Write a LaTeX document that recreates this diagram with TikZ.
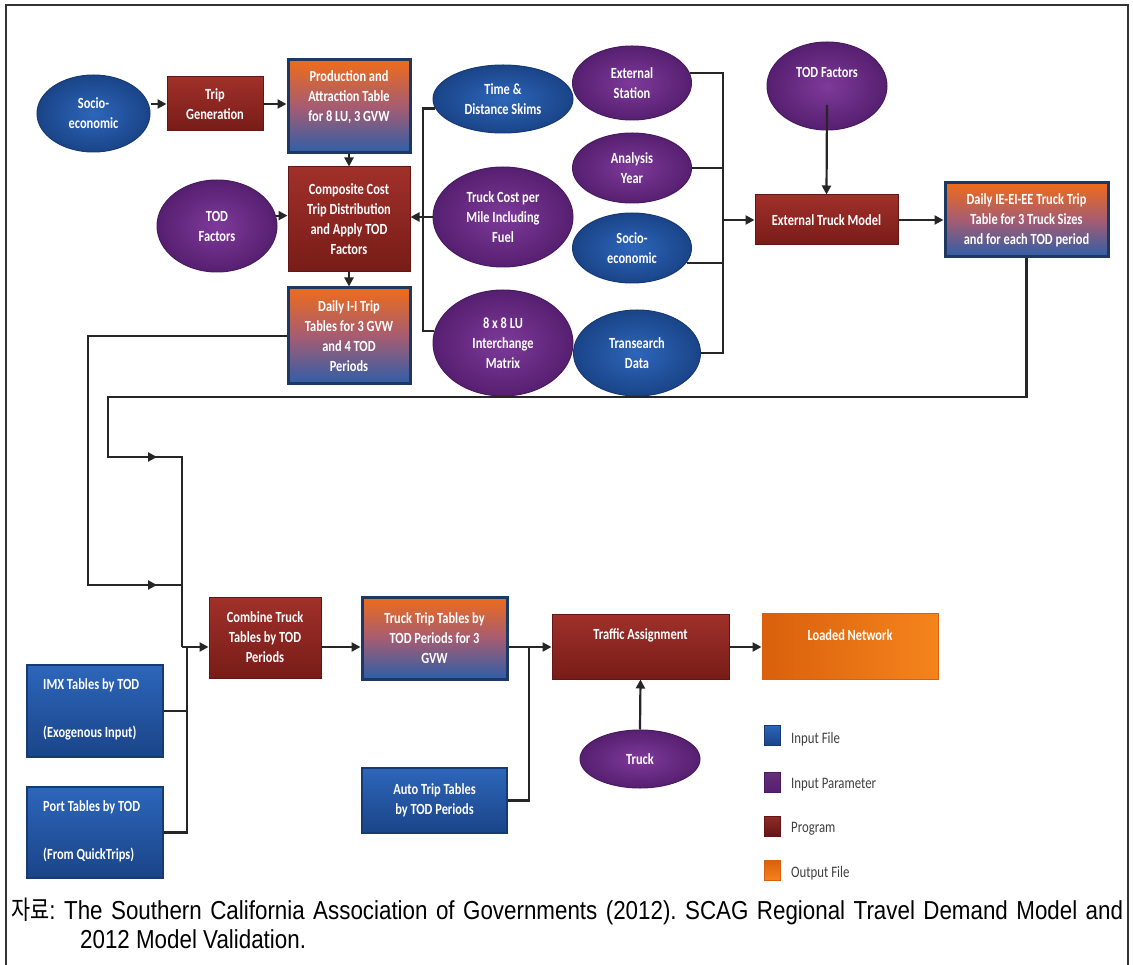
\documentclass[tikz,border=0pt]{standalone}
\usepackage{fontspec}
\setmainfont{Carlito}
\newfontfamily\boxfont{Carlito}[FakeStretch=0.8]
\newfontfamily\capfont{Liberation Sans}[FakeStretch=0.86]
\newfontfamily\krfont{Noto Sans CJK KR}[FakeStretch=0.8]
\usetikzlibrary{arrows.meta,shapes.geometric,shadings}

% palette
\definecolor{inblueL}{HTML}{2D66BA}
\definecolor{inblueD}{HTML}{1A4488}
\definecolor{inblueE}{HTML}{163A74}
\definecolor{parpurL}{HTML}{7E3A9A}
\definecolor{parpurD}{HTML}{561F70}
\definecolor{parpurE}{HTML}{4A1A60}
\definecolor{progredL}{HTML}{A0302A}
\definecolor{progredD}{HTML}{781C18}
\definecolor{progredE}{HTML}{641614}
\definecolor{outorL}{HTML}{F5841C}
\definecolor{outorD}{HTML}{D9600C}
\definecolor{mixtop}{HTML}{EE6C1A}
\definecolor{mixmid}{HTML}{A65C72}
\definecolor{mixbot}{HTML}{2E5EA8}
\definecolor{mixedge}{HTML}{1D3962}
\definecolor{wirecol}{HTML}{262626}
\definecolor{legtext}{HTML}{404040}

\tikzset{
  txt/.style={text=white, align=center,
    font=\boxfont\bfseries\fontsize{15.5pt}{20pt}\selectfont},
  infile/.style={rectangle, draw=inblueE, line width=1.2pt,
    top color=inblueL, bottom color=inblueD, inner sep=0pt, txt},
  inpar/.style={ellipse, draw=parpurE, line width=1pt,
    inner color=parpurL, outer color=parpurD, inner sep=0pt, txt},
  inell/.style={ellipse, draw=inblueE, line width=1pt,
    inner color=inblueL, outer color=inblueD, inner sep=0pt, txt},
  prog/.style={rectangle, draw=progredE, line width=1pt,
    top color=progredL, bottom color=progredD, inner sep=0pt, txt},
  outfile/.style={rectangle, draw=outorD, line width=1pt,
    left color=outorD, right color=outorL, inner sep=0pt, txt},
  mixfile/.style={rectangle, draw=mixedge, line width=3pt,
    top color=mixtop, bottom color=mixbot, middle color=mixmid,
    inner sep=0pt, txt},
  lbl/.style={inner sep=0pt, txt},
  legsq/.style={rectangle, minimum width=16pt, minimum height=20pt,
    inner sep=0pt, line width=0.8pt},
  legtxt/.style={anchor=west, inner sep=0pt, text=legtext,
    font=\boxfont\fontsize{16pt}{18pt}\selectfont},
  wire/.style={draw=wirecol, line width=2.2pt},
  arr/.style={wire, -{Triangle[length=9pt,width=9pt]}},
  captxt/.style={anchor=west, inner sep=0pt,
    font=\capfont\fontsize{26pt}{30pt}\selectfont\frenchspacing},
}

\begin{document}
\begin{tikzpicture}[x=1pt,y=-1pt]
\useasboundingbox (0,0) rectangle (1133,965);
\fill[white] (0,0) rectangle (1133,965);

% frame
\draw[line width=1.2pt, draw=black!80] (6,965) -- (6,5) -- (1128,5) -- (1128,965);

% ---------- internal truck model ----------
\node[inell, minimum width=113pt, minimum height=77pt] (soc1) at (93.5,113.5) {Socio-\\economic};
\node[prog, minimum width=96pt, minimum height=54pt] (tg) at (215,104) {Trip\\Generation};
\node[mixfile, minimum width=122pt, minimum height=93pt] (prod) at (349,106.5) {};
\node[lbl] (prodt) at (349,97) {Production and\\Attraction Table\\for 8 LU, 3 GVW};
\node[prog, minimum width=122pt, minimum height=105pt] (comp) at (349,219.5)
  {Composite Cost\\Trip Distribution\\and Apply TOD\\Factors};
\node[mixfile, minimum width=122pt, minimum height=96pt] (dII) at (349,336)
  {Daily I-I Trip\\Tables for 3 GVW\\and 4 TOD\\Periods};
\node[inpar, minimum width=120pt, minimum height=92pt] (todL) at (217,226) {TOD\\Factors};

\node[inell, minimum width=140pt, minimum height=68pt] (skims) at (503,99) {Time \&\\Distance Skims};
\node[inpar, minimum width=140pt, minimum height=100pt] (tcost) at (503,217)
  {Truck Cost per\\Mile Including\\Fuel};
\node[inpar, minimum width=140pt, minimum height=106pt] (lu8) at (503,343)
  {8 x 8 LU\\Interchange\\Matrix};

% ---------- external truck model ----------
\node[inpar, minimum width=119pt, minimum height=74pt] (extst) at (632,83) {External\\Station};
\node[inpar, minimum width=119pt, minimum height=70pt] (ayear) at (632,168) {Analysis\\Year};
\node[inell, minimum width=119pt, minimum height=70pt] (soc2) at (632,248) {Socio-\\economic};
\node[inell, minimum width=127pt, minimum height=86pt] (trans) at (637,353) {Transearch\\Data};
\node[inpar, minimum width=120pt, minimum height=88pt] (todR) at (827,86) {};
\node[lbl] (todRt) at (827,72) {TOD Factors};
\node[prog, minimum width=143pt, minimum height=50pt] (etm) at (826.5,220) {External Truck Model};
\node[mixfile, minimum width=163pt, minimum height=74pt] (dIE) at (1026.5,220)
  {Daily IE-EI-EE Truck Trip\\Table for 3 Truck Sizes\\and for each TOD period};

% ---------- assignment ----------
\node[prog, minimum width=112pt, minimum height=81pt] (comb) at (265,637.5)
  {Combine Truck\\Tables by TOD\\Periods};
\node[mixfile, minimum width=145pt, minimum height=82pt] (ttt) at (434.5,638)
  {Truck Trip Tables by\\TOD Periods for 3\\GVW};
\node[infile, minimum width=145pt, minimum height=65pt] (auto) at (434.5,800.5)
  {Auto Trip Tables\\by TOD Periods};
\node[infile, minimum width=136pt, minimum height=92pt] (imx) at (95,711) {};
\node[lbl, anchor=west, align=left] (imxt) at (43,709) {IMX Tables by TOD\\[28pt](Exogenous Input)};
\node[infile, minimum width=136pt, minimum height=91pt] (port) at (95,832.5) {};
\node[lbl, anchor=west, align=left] (portt) at (43,831) {Port Tables by TOD\\[28pt](From QuickTrips)};
\node[prog, minimum width=177pt, minimum height=65pt] (traf) at (640.5,646.5) {};
\node[lbl] (traft) at (640.5,635) {Traffic Assignment};
\node[outfile, minimum width=176pt, minimum height=66pt] (load) at (850,646) {};
\node[lbl] (loadt) at (850,635) {Loaded Network};
\node[inpar, minimum width=120pt, minimum height=58pt] (truck) at (640,759) {Truck};

% ---------- legend ----------
\node[legsq, draw=inblueE, top color=inblueL, bottom color=inblueD] (lg1) at (772,735) {};
\node[legsq, draw=parpurE, top color=parpurL!80!black, bottom color=parpurD] (lg2) at (772,782) {};
\node[legsq, draw=progredE, top color=progredL!90!black, bottom color=progredE] (lg3) at (772,826) {};
\node[legsq, draw=outorD, top color=outorD, bottom color=outorL] (lg4) at (772,870.5) {};
\node[legtxt] (lg1t) at (791,739) {Input File};
\node[legtxt] (lg2t) at (791,785) {Input Parameter};
\node[legtxt] (lg3t) at (791,829) {Program};
\node[legtxt] (lg4t) at (791,873) {Output File};

% ---------- connectors: upper part ----------
\draw[arr] (soc1.east |- tg.west) -- (tg.west);
\draw[arr] (tg.east) -- (tg.east -| prod.west);
\draw[arr] (prod.south) -- (comp.north);
\draw[arr] (todL.10) -- (todL.10 -| comp.west);
\draw[arr] (comp.south) -- (dII.north);

\coordinate (lbus) at (423,217);
\draw[wire] (skims.188) -- (skims.188 -| lbus) -- (lu8.170 -| lbus) -- (lu8.170);
\draw[arr] (tcost.west) -- (tcost.west -| comp.east);

\coordinate (rbus) at (723,220);
\draw[wire] (extst.10) -- (extst.10 -| rbus) -- (trans.east -| rbus) -- (trans.east);
\draw[wire] (ayear.east) -- (ayear.east -| rbus);
\draw[wire] (soc2.-15) -- (soc2.-15 -| rbus);
\draw[arr] (rbus |- etm.west) -- (etm.west);
\draw[arr] ([yshift=-19pt]todR.center) -- (etm.north);
\draw[arr] (etm.east) -- (etm.east -| dIE.west);

% ---------- connectors: feeds into the combine step ----------
\coordinate (row) at (0,647);
\coordinate (bus) at (182,647);
\coordinate (bus2) at (187,647);
\coordinate (fb1) at (108,397);
\coordinate (fb2) at (108,457);
\coordinate (fb3) at (88,336);
\coordinate (fb4) at (88,585);
\draw[wire] (dIE.south) |- (fb1) -- (fb2) -- (fb2 -| bus) -- (bus);
\draw[arr] (fb2) -- ++(49,0);
\draw[wire] (dII.west) -- (fb3) -- (fb4) -- (fb4 -| bus);
\draw[arr] (fb4) -- ++(69,0);
\draw[wire] (imx.east) -- (imx.east -| bus2);
\draw[wire] (port.east) -- (port.east -| bus2) -- (bus2) -- (bus);
\draw[arr] (bus) -- (comb.west |- row);

% ---------- connectors: lower row ----------
\draw[arr] (comb.east |- row) -- (ttt.west |- row);
\draw[arr] (ttt.east |- row) -- (traf.west |- row);
\coordinate (abus) at (529,647);
\draw[wire] (auto.east) -- (auto.east -| abus) -- (abus);
\draw[arr] (truck.north) -- (traf.south);
\draw[arr] (traf.east |- row) -- (load.west |- row);

% ---------- source ----------
\node[captxt] (cap1) at (11,911)
  {\makebox[1112pt][s]{{\krfont 자료}: The Southern California Association of Governments (2012). SCAG Regional Travel Demand Model and}};
\node[captxt] (cap2) at (80,939) {2012 Model Validation.};
\end{tikzpicture}
\end{document}
